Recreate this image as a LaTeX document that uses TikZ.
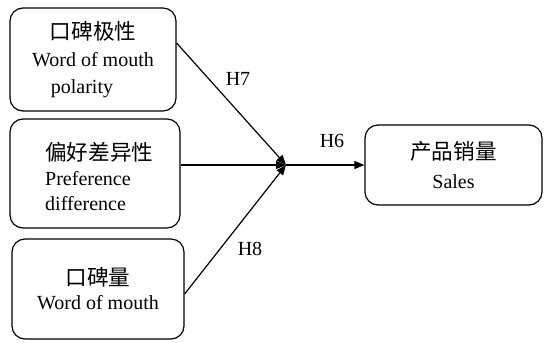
\documentclass[tikz,border=0pt]{standalone}
\usepackage{fontspec}
\setmainfont{Liberation Serif}
\newfontfamily\cjk[Scale=1.08]{Noto Sans CJK SC}
\usetikzlibrary{arrows.meta,calc}
\begin{document}
\begin{tikzpicture}[x=1bp,y=-1bp,
  box/.style={draw,line width=1.2bp,rounded corners=13bp,inner sep=0pt,
    font=\fontsize{20bp}{27bp}\selectfont},
  conn/.style={line width=1.2bp,-{Triangle[length=10bp,width=8bp]}},
  lbl/.style={font=\fontsize{20bp}{23bp}\selectfont,inner sep=0pt}]
\useasboundingbox (0,0) rectangle (549,342);
\node[box,minimum width=166bp,minimum height=103bp,align=center] (b1) at (93,59.5)
  {{\cjk 口碑极性}\\Word of mouth\\polarity\hspace*{22bp}};
\node[box,minimum width=170bp,minimum height=109bp] (b2) at (95,173.5) {};
\node[font=\fontsize{20bp}{25bp}\selectfont,align=left,inner sep=0pt,anchor=west] (t2) at (45,176)
  {{\cjk 偏好差异性}\\Preference\\difference};
\node[box,minimum width=172bp,minimum height=100bp,align=center,font=\fontsize{20bp}{24bp}\selectfont] (b3) at (98,289)
  {{\cjk 口碑量}\\Word of mouth};
\node[box,minimum width=177bp,minimum height=80bp,align=center,font=\fontsize{20bp}{29bp}\selectfont] (b4) at (453.5,165)
  {{\cjk 产品销量}\\Sales};
\coordinate (j) at (286,165);
\draw[conn] ([yshift=16.5bp]b1.east) -- (j);
\draw[conn] (b2.east |- j) -- (j);
\draw[conn] ([yshift=-5bp]b3.east) -- (j);
\draw[conn] (j) -- (b4.west);
\node[lbl] (h7) at (238,79) {H7};
\node[lbl] (h6) at (332,141) {H6};
\node[lbl] (h8) at (250,249) {H8};
\end{tikzpicture}
\end{document}
